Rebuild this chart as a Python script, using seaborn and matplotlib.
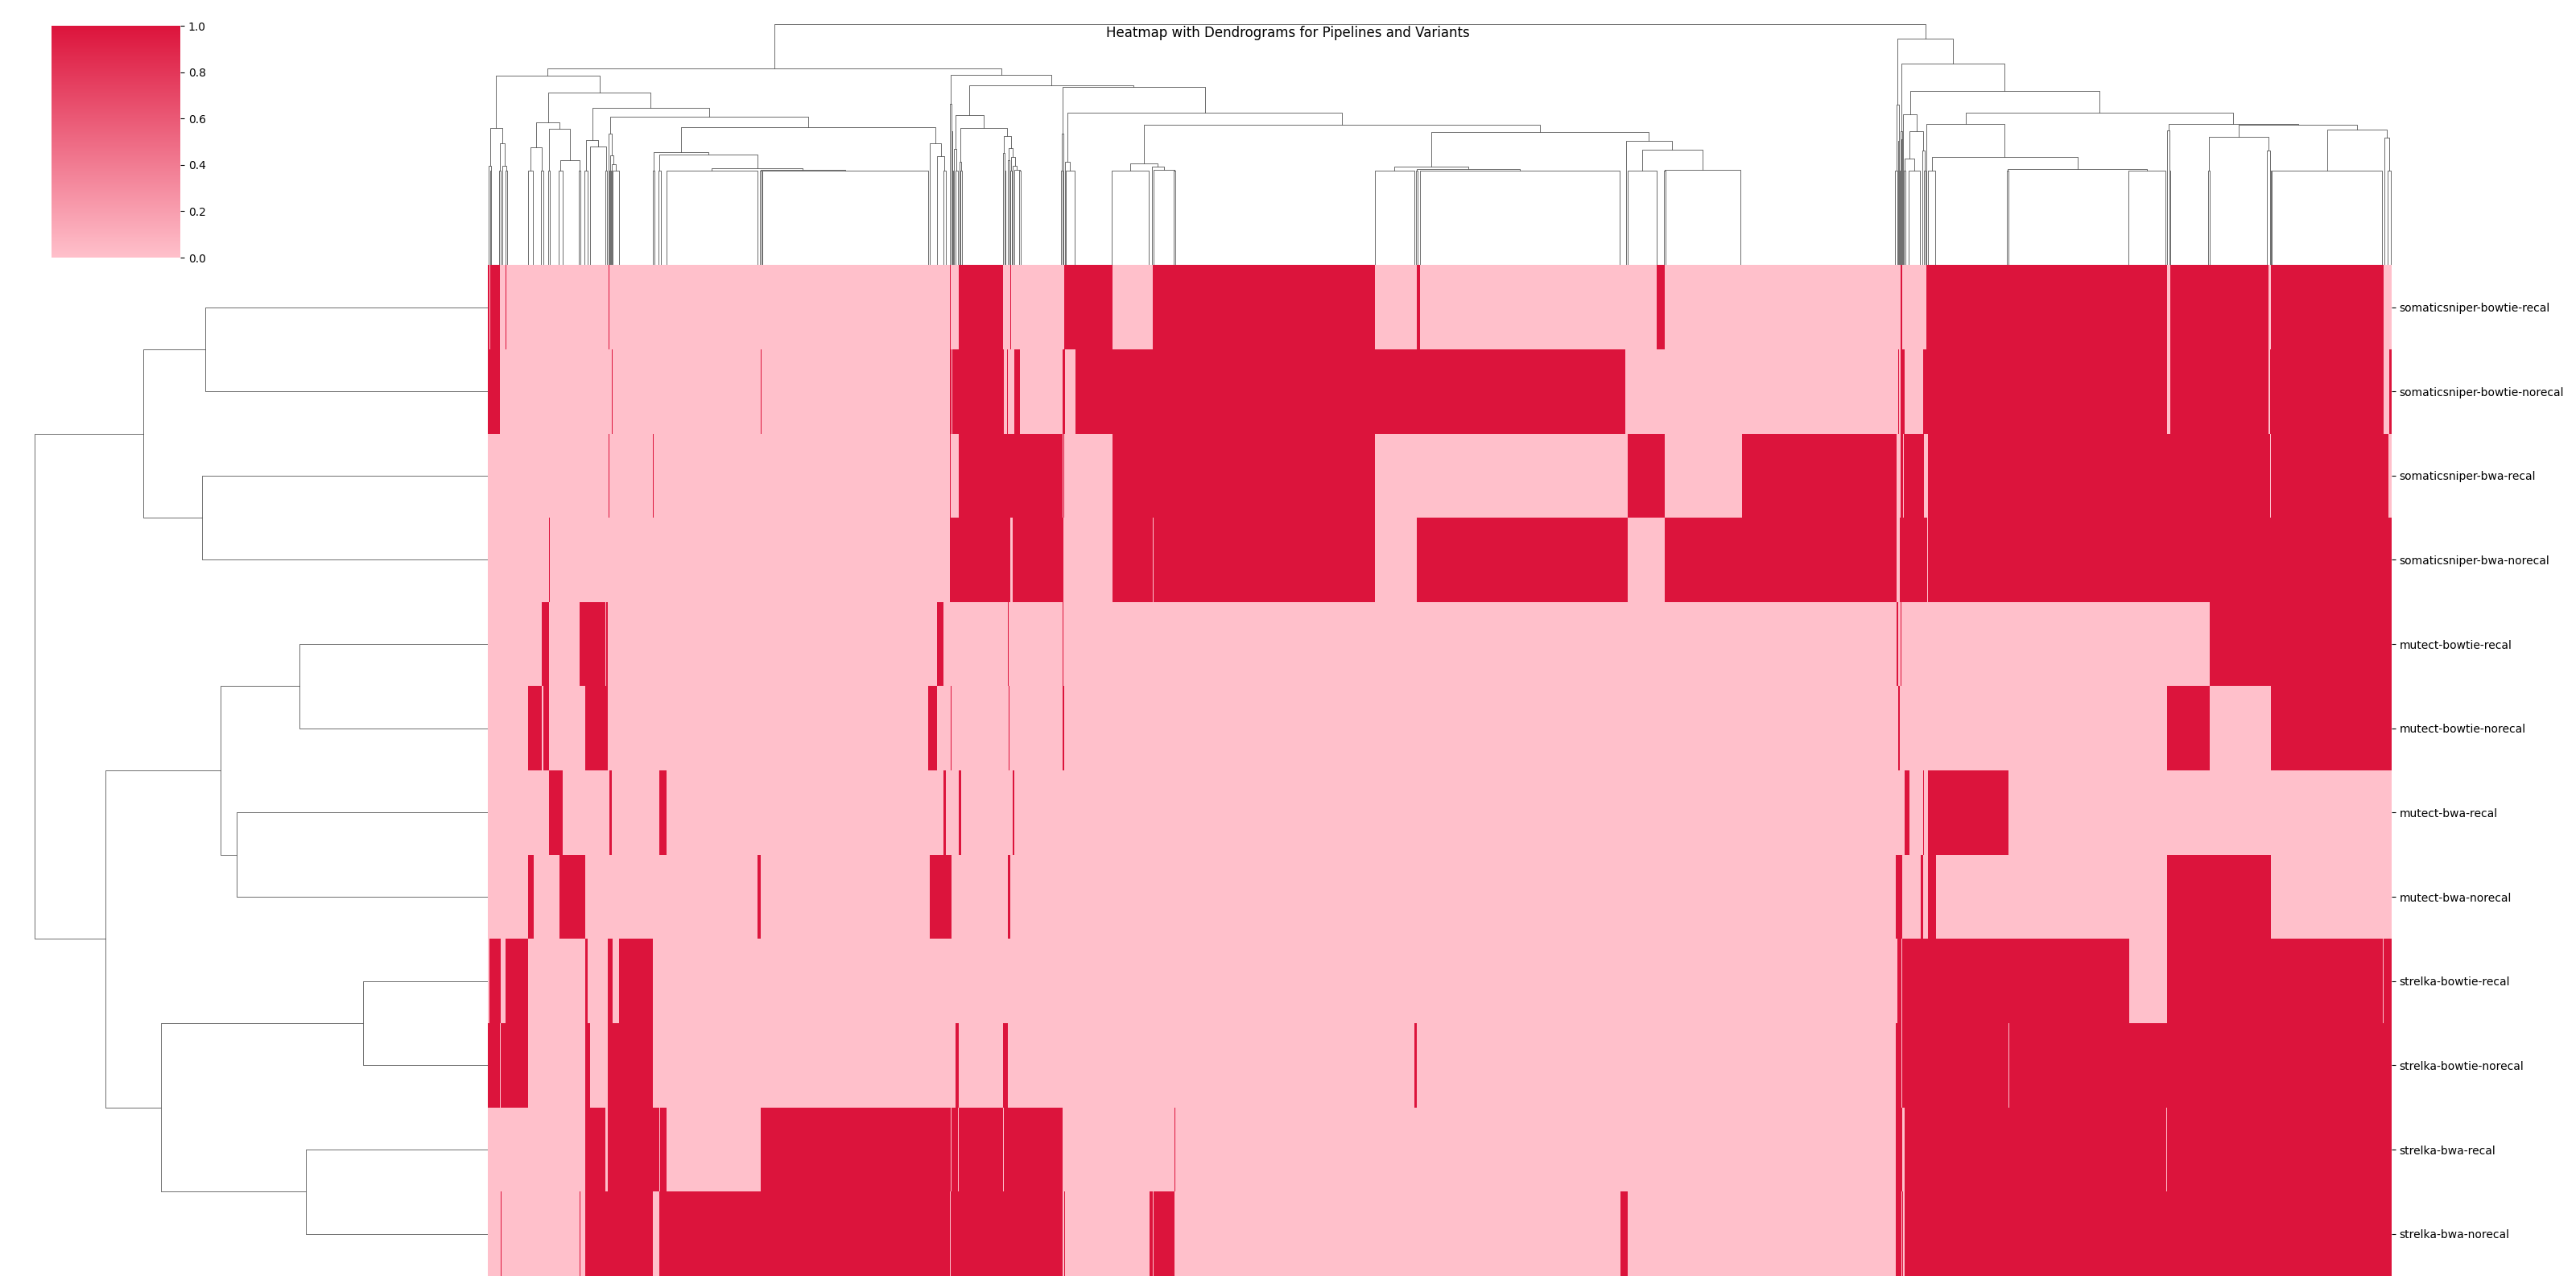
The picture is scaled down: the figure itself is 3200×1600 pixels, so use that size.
import sys
import numpy as np
import pandas as pd
import seaborn as sns
import matplotlib.pyplot as plt

sys.setrecursionlimit(20000)

n_variants = 2365

pipelines = ['somaticsniper-bowtie-recal', 'somaticsniper-bowtie-norecal',
             'somaticsniper-bwa-recal', 'somaticsniper-bwa-norecal',
             'mutect-bowtie-recal', 'mutect-bowtie-norecal',
             'mutect-bwa-recal', 'mutect-bwa-norecal',
             'strelka-bowtie-recal', 'strelka-bowtie-norecal',
             'strelka-bwa-recal', 'strelka-bwa-norecal']

# variants called by each pipeline, as ranges of (ordered) variant ids
ss_bowtie_recal = [(0, 2), (3, 15), (22, 23), (150, 151), (574, 575), (585, 640), (649, 650), (716, 776),
                   (826, 1102), (1154, 1158), (1452, 1462), (1755, 1757), (1787, 2086), (2090, 2212), (2215, 2355)]
ss_bowtie_norecal = [(0, 15), (154, 155), (339, 340), (574, 576), (577, 641), (645, 646), (654, 661), (714, 717),
                     (730, 1413), (1752, 1753), (1755, 1760), (1783, 2086), (2090, 2212), (2214, 2355), (2362, 2365)]
ss_bwa_recal = [(150, 151), (205, 206), (574, 575), (585, 714), (715, 716), (776, 1102), (1416, 1462), (1558, 1750),
                (1755, 1758), (1759, 1784), (1789, 2214), (2215, 2361)]
ss_bwa_norecal = [(76, 77), (574, 649), (652, 715), (776, 826), (827, 1102), (1154, 1416), (1462, 1750),
                  (1754, 1788), (1789, 2365)]
mutect_bowtie_recal = [(67, 76), (114, 146), (147, 149), (558, 566), (646, 647), (714, 715), (1750, 1752),
                       (1755, 1756), (2139, 2365)]
mutect_bowtie_norecal = [(50, 67), (69, 76), (121, 149), (547, 558), (575, 576), (647, 648), (714, 716),
                         (1752, 1754), (2086, 2139), (2215, 2365)]
mutect_bwa_recal = [(76, 93), (151, 154), (213, 222), (566, 569), (585, 588), (652, 654), (1760, 1766),
                    (1783, 1784), (1789, 1889)]
mutect_bwa_norecal = [(50, 57), (89, 121), (335, 339), (549, 576), (646, 649), (1749, 1757), (1780, 1783),
                      (1789, 1799), (2086, 2215)]
strelka_bowtie_recal = [(2, 16), (22, 50), (121, 124), (149, 155), (163, 205), (1751, 1756), (1757, 2039),
                        (2086, 2354), (2355, 2365)]
strelka_bowtie_norecal = [(0, 15), (16, 50), (121, 127), (149, 205), (581, 585), (640, 646), (1151, 1154),
                          (1749, 1756), (1757, 1889), (1890, 2365)]
strelka_bwa_recal = [(121, 146), (149, 213), (214, 222), (339, 575), (576, 584), (585, 640), (641, 714), (853, 854),
                     (1749, 1757), (1760, 2085), (2086, 2365)]
strelka_bwa_norecal = [(16, 17), (114, 115), (121, 205), (213, 574), (575, 714), (716, 717), (822, 826), (827, 853),
                       (1407, 1416), (1749, 1756), (1757, 1758), (1760, 2365)]

calls = [ss_bowtie_recal, ss_bowtie_norecal, ss_bwa_recal, ss_bwa_norecal,
         mutect_bowtie_recal, mutect_bowtie_norecal, mutect_bwa_recal, mutect_bwa_norecal,
         strelka_bowtie_recal, strelka_bowtie_norecal, strelka_bwa_recal, strelka_bwa_norecal]

# merge trees: (height, left, right), an int closes a group of identical items
row_tree = (276, (210, (172, 1, 2), (174, 3, 4)),
            (233, (163, (115, 5, 6), (153, 7, 8)),
             (199, (76, 9, 10), (111, 11, 12))))

tree_a_left = (234.7,
               (170, (122.7, 2, (116.7, 3, 5)),
                (150.7, (116.7, 15, 17), (122.7, 18, (116.7, 23, 25)))),
               (213.7,
                (176.7,
                 (145.7, (116.7, 51, 57), (116.7, 67, 70)),
                 (168.7, (116.7, 76, 78),
                  (129.7, (116.7, 89, 94), (116.7, 114, 116)))),
                (194.7,
                 (154.7, (116.7, 121, 125), (146.7, 128, (116.7, 147, 149))),
                 (183.7,
                  (162.7, (116.7, 150, 151),
                   (135.7, (116.7, 152, 153), (124.7, 154, (116.7, 156, 164)))),
                  (170.7,
                   (139.7, (116.7, 206, 208),
                    (136.7, (116.7, 213, 216),
                     (119.7, (116.7, 223, 336),
                      (117.7, (116.7, 339, 340), (116.7, 341, 548))))),
                   (150.7, 550, (134.7, 559, (116.7, 567, 570))))))))

tree_a_right = (235.7,
                (200, 575, (166, 576, (116.7, 577, 578))),
                (222.7,
                 (185.7,
                  (143.7, 579, (116.7, 582, 585)),
                  (169.7,
                   (127.7, 586, (116.7, 588, 590)),
                   (159.7,
                    (138.7, 641, (116.7, 642, 644)),
                    (144.7, (130, 647, 648),
                     (133.7, (116.7, 650, 651),
                      (122.7, 653, (117.7, 655, (116.7, 661, 662)))))))),
                 (220.7,
                  (162.7, (116.7, 713, 714), 716),
                  (188.7,
                   (127.7, 717, (116.7, 718, 730)),
                   (173.7,
                    (125.7, (116.7, 776, 822),
                     (121.7, 826, (117.7, 827, (116.7, 853, 855)))),
                    (164.7,
                     (121.7, (116.7, 1103, 1152),
                      (118.7, (116.7, 1154, 1155), (116.7, 1159, 1407))),
                     (153.7, 1415,
                      (142.7, (116.7, 1416, 1453),
                       (117.7, (116.7, 1462, 1463), 1558)))))))))

tree_b = (280.7,
          (198.7, (116.7, 1750, 1752), (154, 1753, 1754)),
          (249.7,
           (165.7, (116.7, 1755, 1756), (155.7, 1757, 1758)),
           (215.7,
            (186.7, 1759,
             (165.7,
              (131.7, (116.7, 1760, 1762), (116.7, 1767, 1781)),
              (141.7, 1783, (116.7, 1785, 1787)))),
            (188.7,
             (174.7, 1788,
              (133.7, (116.7, 1790, 1800),
               (118.7, (116.7, 1889, 1890), (116.7, 2040, 2086)))),
             (174.7,
              (166.7, 2087, (116.7, 2090, 2091)),
              (173.7,
               (158.7, (116.7, 2139, 2140), (141.7, 2212, (116.7, 2215, 2216))),
               (167.7, (116.7, 2217, 2355), (157.7, 2357, (116.7, 2362, 2365)))))))))

col_tree = (298.7, (243.7, tree_a_left, tree_a_right), tree_b)


def tree_to_linkage(tree, n_leaves):
    # scipy style linkage matrix, keeps the left to right order of the tree
    rows = []
    state = {'start': 0, 'next': n_leaves}

    def walk(node):
        if isinstance(node, (int, np.integer)):
            first = state['start']
            state['start'] = int(node)
            cur, size = first, 1
            for leaf in range(first + 1, int(node)):
                size += 1
                rows.append([cur, leaf, 0.0, size])
                cur = state['next']
                state['next'] += 1
            return cur, size
        height, left, right = node
        l_id, l_size = walk(left)
        r_id, r_size = walk(right)
        rows.append([l_id, r_id, height, l_size + r_size])
        cur = state['next']
        state['next'] += 1
        return cur, l_size + r_size

    walk(tree)
    return np.array(rows, dtype=float)


matrix = np.zeros((len(pipelines), n_variants))
for i, runs in enumerate(calls):
    for start, end in runs:
        matrix[i, start:end] = 1

df = pd.DataFrame(matrix, index=pipelines)

cmap = sns.blend_palette(['pink', 'crimson'], as_cmap=True)

g = sns.clustermap(df, row_linkage=tree_to_linkage(row_tree, len(pipelines)),
                   col_linkage=tree_to_linkage(col_tree, n_variants),
                   cmap=cmap, figsize=(32, 16), xticklabels=False, yticklabels=True)
g.ax_heatmap.set_ylabel('')
plt.suptitle('Heatmap with Dendrograms for Pipelines and Variants')
plt.savefig('out.png', dpi=100)
